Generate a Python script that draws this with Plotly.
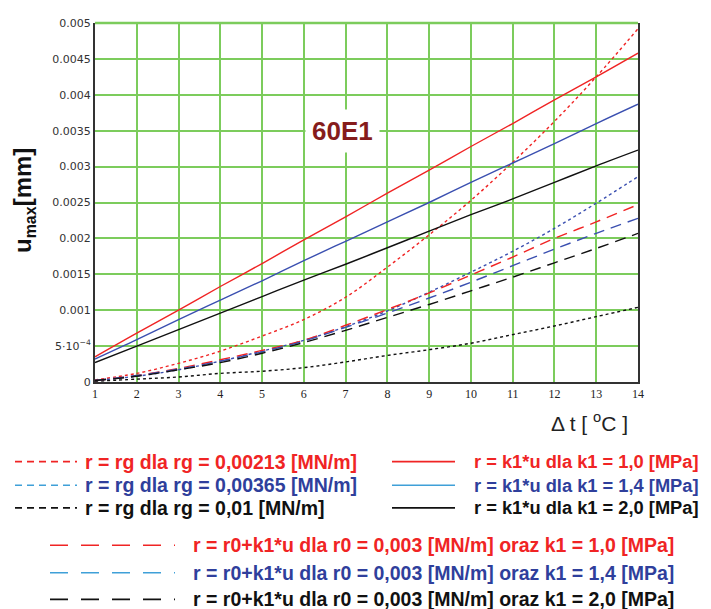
import plotly.graph_objects as go

dt = [1, 2, 3, 4, 5, 6, 7, 8, 9, 10, 11, 12, 13, 14]

# r = rg
rg_00213 = [0.00003, 0.00012, 0.00026, 0.00043, 0.00064, 0.00087, 0.00118, 0.00160, 0.00205, 0.00253, 0.00306, 0.00363, 0.00425, 0.00492]
rg_00365 = [0.00002, 0.00008, 0.00017, 0.00029, 0.00043, 0.00058, 0.00077, 0.00099, 0.00125, 0.00153, 0.00182, 0.00214, 0.00249, 0.00286]
rg_001 = [0.00001, 0.00004, 0.00007, 0.00012, 0.00015, 0.00020, 0.00028, 0.00037, 0.00045, 0.00054, 0.00066, 0.00078, 0.00091, 0.00104]

# r = k1*u
k1_10 = [0.00035, 0.00068, 0.00100, 0.00133, 0.00165, 0.00198, 0.00230, 0.00263, 0.00295, 0.00328, 0.00360, 0.00393, 0.00425, 0.00458]
k1_14 = [0.00032, 0.00059, 0.00087, 0.00114, 0.00141, 0.00169, 0.00196, 0.00223, 0.00250, 0.00278, 0.00305, 0.00332, 0.00360, 0.00387]
k1_20 = [0.00027, 0.00050, 0.00073, 0.00096, 0.00119, 0.00142, 0.00164, 0.00187, 0.00210, 0.00233, 0.00255, 0.00278, 0.00301, 0.00323]

# r = r0 + k1*u
r0k_10 = [0.00002, 0.00009, 0.00019, 0.00031, 0.00044, 0.00058, 0.00079, 0.00101, 0.00124, 0.00149, 0.00174, 0.00200, 0.00223, 0.00247]
r0k_14 = [0.00002, 0.00009, 0.00018, 0.00029, 0.00042, 0.00057, 0.00076, 0.00096, 0.00117, 0.00139, 0.00162, 0.00185, 0.00207, 0.00228]
r0k_20 = [0.00002, 0.00008, 0.00017, 0.00027, 0.00040, 0.00055, 0.00072, 0.00090, 0.00108, 0.00127, 0.00146, 0.00166, 0.00186, 0.00207]

y_tickvals = [0, 0.0005, 0.001, 0.0015, 0.002, 0.0025, 0.003, 0.0035, 0.004, 0.0045, 0.005]
y_ticktext = ["0", "5\u00b710<sup>\u22124</sup>", "0.001", "0.0015", "0.002", "0.0025", "0.003",
              "0.0035", "0.004", "0.0045", "0.005"]
x_tickvals = dt

RED = "#f02424"
BLUE = "#3a4fb0"
BLUE_LEG = "#3fa0d8"
BLACK = "#111111"
TXT_BLUE = "#2f3f9c"

legend_left = [
    ("r = rg dla rg = 0,00213 [MN/m]", RED, RED),
    ("r = rg dla rg = 0,00365 [MN/m]", BLUE_LEG, TXT_BLUE),
    ("r = rg dla rg = 0,01 [MN/m]", BLACK, BLACK),
]
legend_right = [
    ("r = k1*u dla k1 = 1,0 [MPa]", RED, RED),
    ("r = k1*u dla k1 = 1,4 [MPa]", BLUE_LEG, TXT_BLUE),
    ("r = k1*u dla k1 = 2,0 [MPa]", BLACK, BLACK),
]
legend_bottom = [
    ("r = r0+k1*u dla r0 = 0,003 [MN/m] oraz k1 = 1,0 [MPa]", RED, RED),
    ("r = r0+k1*u dla r0 = 0,003 [MN/m] oraz k1 = 1,4 [MPa]", BLUE_LEG, TXT_BLUE),
    ("r = r0+k1*u dla r0 = 0,003 [MN/m] oraz k1 = 2,0 [MPa]", BLACK, BLACK),
]

fig = go.Figure()

def add(y, color, dash, width=1.4):
    fig.add_trace(go.Scatter(x=dt, y=y, mode="lines", line=dict(color=color, dash=dash, width=width,
                                                               shape="spline"),
                             showlegend=False, hoverinfo="skip"))

SHORT = "3px,3px"
LONG = "11px,7px"
add(rg_00213, RED, SHORT)
add(rg_00365, BLUE, SHORT)
add(rg_001, BLACK, SHORT)
add(k1_10, RED, "solid")
add(k1_14, BLUE, "solid")
add(k1_20, BLACK, "solid")
add(r0k_10, RED, LONG)
add(r0k_14, BLUE, LONG)
add(r0k_20, BLACK, LONG)

OFF = 8  # page body margin
W, H = 711 - OFF, 609 - OFF
PL, PR, PT, PB = 95, 638, 17, 382
L, T = PL - OFF, PT - OFF
R = W - (PR - OFF)
B = H - (PB - OFF)
pw, ph = PR - PL, PB - PT

def px_to_paper(px, py):
    return (px - PL) / pw, (PB - py) / ph

shapes = []
annotations = []

shapes.append(dict(type="line", xref="paper", yref="paper", x0=0, x1=1, y0=1, y1=1,
                   line=dict(color="#7ccc5c", width=2.5), layer="above"))

FONT_LEG = "Liberation Sans Narrow, Arial Narrow, Liberation Sans, Arial"

def leg_item(x0, x1, ty, tx, text, lcolor, tcolor, dash, size):
    a0, b = px_to_paper(x0, ty)
    a1, _ = px_to_paper(x1, ty)
    shapes.append(dict(type="line", xref="paper", yref="paper", x0=a0, x1=a1, y0=b, y1=b,
                       line=dict(color=lcolor, width=1.6, dash=dash)))
    ax, ay = px_to_paper(tx, ty)
    annotations.append(dict(xref="paper", yref="paper", x=ax, y=ay, xanchor="left", yanchor="middle",
                            text="<b>" + text + "</b>", showarrow=False,
                            font=dict(family=FONT_LEG, size=size, color=tcolor)))

rows_top = [463, 487, 510]
for (txt, lc, tc), ry in zip(legend_left, rows_top):
    leg_item(15, 77, ry, 83, txt, lc, tc, "7px,5px", 19.5)
for (txt, lc, tc), ry in zip(legend_right, rows_top):
    leg_item(392, 455, ry, 472, txt, lc, tc, "solid", 18.3)
rows_bot = [548, 576, 603]
for (txt, lc, tc), ry in zip(legend_bottom, rows_bot):
    leg_item(50, 175, ry, 191, txt, lc, tc, "18px,13px", 19.5)

annotations.append(dict(x=6.93, y=0.00349, xref="x", yref="y", text="<b>60E1</b>", showarrow=False,
                        font=dict(family="Liberation Sans, Arial", size=26, color="#861c1c"),
                        bgcolor="white", borderpad=6))

ax_, ay_ = px_to_paper(7, 198)
annotations.append(dict(xref="paper", yref="paper", x=ax_, y=ay_, xanchor="left", yanchor="middle",
                        textangle=-90,
                        text="<b>u<sub><span style='font-size:16px'>max</span></sub>[mm]</b>",
                        showarrow=False, font=dict(family="Liberation Sans, Arial", size=24, color=BLACK)))
bx, by = px_to_paper(589, 423)
annotations.append(dict(xref="paper", yref="paper", x=bx, y=by, xanchor="center", yanchor="middle",
                        text="\u0394 t [ <sup>o</sup>C ]",
                        showarrow=False, font=dict(family="Liberation Sans, Arial", size=21,
                                                   color="#222222")))

fig.update_layout(
    width=W, height=H,
    margin=dict(l=L, r=R, t=T, b=B),
    paper_bgcolor="white", plot_bgcolor="white",
    shapes=shapes, annotations=annotations,
    xaxis=dict(range=[1, 14], tickvals=x_tickvals, showgrid=True, gridcolor="#7ccc5c", gridwidth=2,
               showline=True, linecolor="#333333", linewidth=2, zeroline=False, ticks="",
               tickfont=dict(family="Liberation Serif, Times New Roman", size=12, color="#222222")),
    yaxis=dict(range=[0, 0.005], tickvals=y_tickvals, ticktext=y_ticktext, showgrid=True,
               gridcolor="#7ccc5c", gridwidth=2, showline=True, mirror=True, linecolor="#333333",
               linewidth=2, zeroline=False, ticks="",
               tickfont=dict(family="DejaVu Sans, Verdana", size=11, color="#333333")),
)

fig.write_html("out.html")
